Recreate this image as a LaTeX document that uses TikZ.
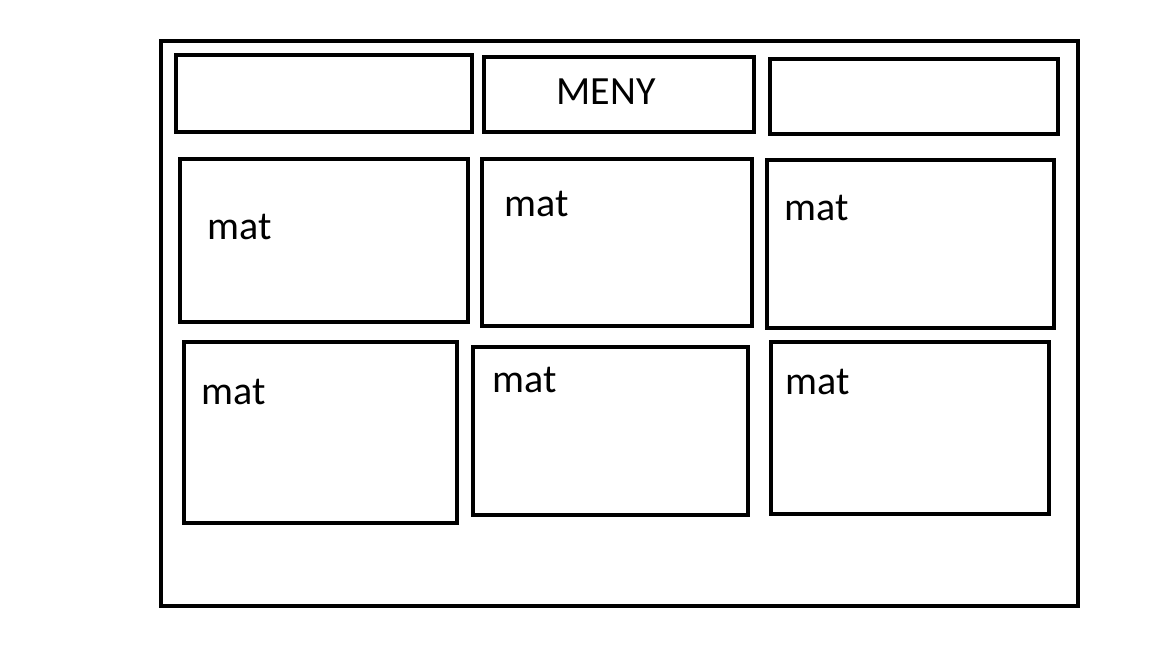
\documentclass[tikz,border=0pt]{standalone}
\usepackage{fontspec}
\setmainfont{Carlito}
\begin{document}
\begin{tikzpicture}[x=1pt,y=-1pt,
  box/.style={draw=black,line width=4pt,rectangle,inner sep=0pt,outer sep=0pt,fill=white},
  lbl/.style={inner sep=0pt,font=\fontsize{40}{44}\selectfont}]
\useasboundingbox[fill=white] (0,0) rectangle (1152,648);
\node[box,minimum width=917pt,minimum height=565pt] (outer) at (619.5,323.5) {};
\node[box,minimum width=296pt,minimum height=77pt] (t1) at (324,93.5) {};
\node[box,minimum width=270pt,minimum height=75pt] (t2) at (619,94.5) {};
\node[box,minimum width=288pt,minimum height=75pt] (t3) at (914,96.5) {};
\node[box,minimum width=288pt,minimum height=163pt] (m1) at (324,240.5) {};
\node[box,minimum width=270pt,minimum height=167pt] (m2) at (617,242.5) {};
\node[box,minimum width=287pt,minimum height=168pt] (m3) at (910.5,244) {};
\node[box,minimum width=273pt,minimum height=181pt] (b1) at (320.5,432.5) {};
\node[box,minimum width=275pt,minimum height=168pt] (b2) at (610.5,431) {};
\node[box,minimum width=278pt,minimum height=172pt] (b3) at (910,428) {};
\node[lbl] (meny) at (606,92) {MENY};
\node[lbl] (l1) at (240,227) {mat};
\node[lbl] (l2) at (537,204) {mat};
\node[lbl] (l3) at (817,208) {mat};
\node[lbl] (l4) at (234,392) {mat};
\node[lbl] (l5) at (525,380) {mat};
\node[lbl] (l6) at (818,382) {mat};
\end{tikzpicture}
\end{document}
